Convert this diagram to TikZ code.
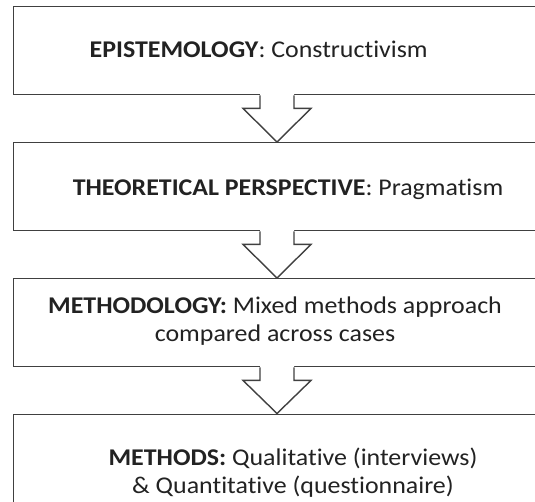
\documentclass[tikz,border=0pt]{standalone}
\usepackage{fontspec}
\setmainfont{Carlito}[Ligatures=NoCommon, FakeStretch=1.08]
\usetikzlibrary{calc}
\definecolor{linec}{HTML}{404040}
\definecolor{txt}{HTML}{222222}
\tikzset{
  box/.style={draw=linec, line width=1.4pt, anchor=north west, minimum width=540pt, minimum height=88pt, inner sep=0pt},
  lbl/.style={font=\fontsize{24}{28}\selectfont, text=txt, align=center, inner sep=0pt, anchor=base},
  arrline/.style={draw=linec, line width=1.4pt, line join=miter}
}
\newcommand\blockarr[2]{%
  \path (#1.south -| ax) coordinate (#1-s) (#2.north -| ax) coordinate (#2-n);
  \fill[white] ($(#1-s)+(-17pt,1.5pt)$) -- ($(#1-s)+(-17pt,-13pt)$) -- ($(#1-s)+(-34pt,-13pt)$) -- (#2-n)
     -- ($(#1-s)+(34pt,-13pt)$) -- ($(#1-s)+(17pt,-13pt)$) -- ($(#1-s)+(17pt,1.5pt)$) -- cycle;
  \draw[arrline] ($(#1-s)+(-17pt,0pt)$) -- ($(#1-s)+(-17pt,-13pt)$) -- ($(#1-s)+(-34pt,-13pt)$) -- (#2-n)
     -- ($(#1-s)+(34pt,-13pt)$) -- ($(#1-s)+(17pt,-13pt)$) -- ($(#1-s)+(17pt,0pt)$);
}
\begin{document}
\begin{tikzpicture}[x=1pt,y=1pt]
  \useasboundingbox (0,0) rectangle (535,-501);
  \clip (0,0) rectangle (535,-501);
  \fill[white] (0,0) rectangle (535,-501);
  \coordinate (ax) at (277,0);
  \node[box] (b1) at (12.5,-6) {};
  \node[box] (b2) at (12.5,-142) {};
  \node[box] (b3) at (12.5,-278) {};
  \node[box] (b4) at (12.5,-413.5) {};
  \blockarr{b1}{b2}
  \blockarr{b2}{b3}
  \blockarr{b3}{b4}
  \node[lbl] (t1) at (258.7,-57) {\textbf{EPISTEMOLOGY}: Constructivism};
  \node[lbl] (t2) at (288,-195) {\textbf{THEORETICAL PERSPECTIVE}: Pragmatism};
  \node[lbl] (t3) at (275,-341) {\textbf{METHODOLOGY:} Mixed methods approach\\compared across cases};
  \node[lbl] (t4) at (293,-493) {\textbf{METHODS:} Qualitative (interviews)\\\& Quantitative (questionnaire)};
\end{tikzpicture}
\end{document}
